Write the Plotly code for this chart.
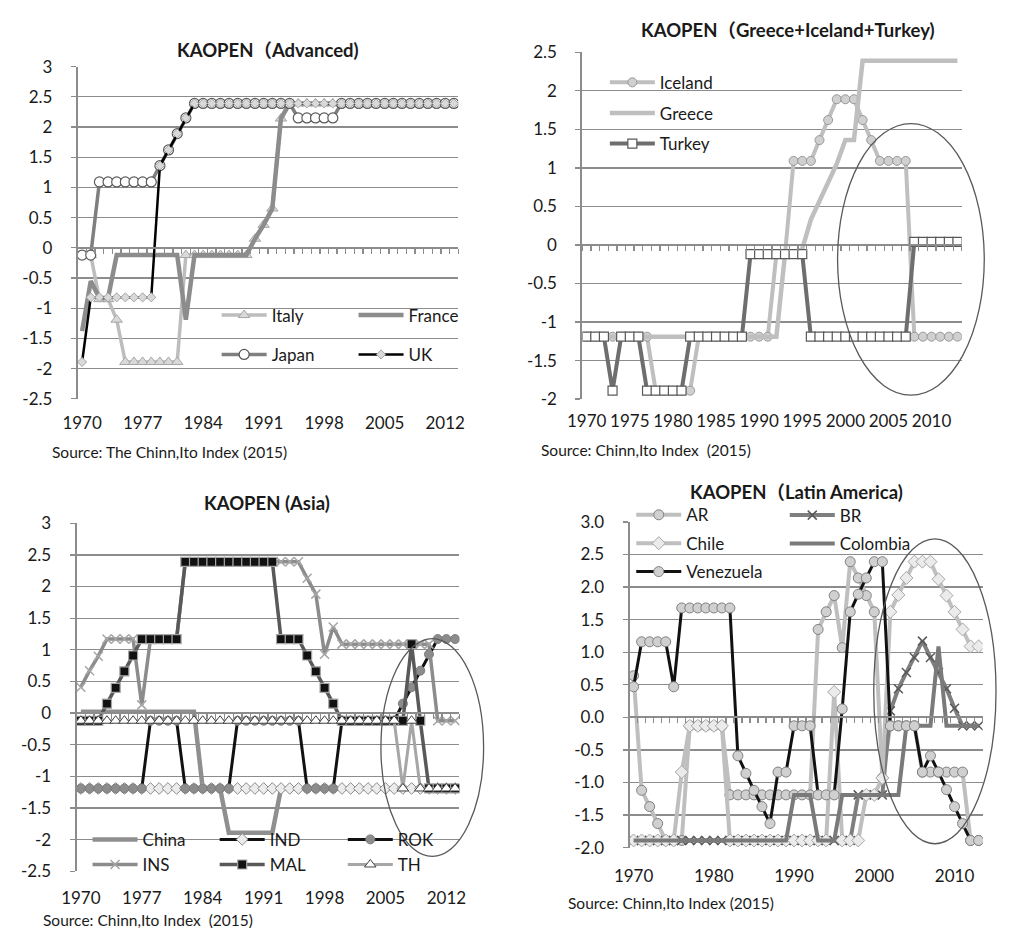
import plotly.graph_objects as go

W, H = 1010, 936          # browser window
OFF = 8                   # default page margin around the figure
FW, FH = W - 2 * OFF, H - 2 * OFF
FONT = "Lato, 'Noto Sans CJK JP', sans-serif"

years = list(range(1970, 2014))

# ---------------- Panel 1: Advanced ----------------
italy = [
    -0.12, -0.12, -0.85, -0.85, -1.19, -1.89, -1.89, -1.89, -1.89, -1.89,
    -1.89, -1.89, -0.12, -0.12, -0.12, -0.12, -0.12, -0.12, -0.12, -0.12,
    0.15, 0.38, 0.65, 2.14, 2.39, 2.39, 2.39, 2.39, 2.39, 2.39,
    2.39, 2.39, 2.39, 2.39, 2.39, 2.39, 2.39, 2.39, 2.39, 2.39,
    2.39, 2.39, 2.39, 2.39]
france = [
    -1.38, -0.55, -0.83, -0.83, -0.12, -0.12, -0.12, -0.12, -0.12, -0.12,
    -0.12, -0.12, -1.19, -0.12, -0.12, -0.12, -0.12, -0.12, -0.12, -0.12,
    0.15, 0.38, 0.65, 2.14, 2.39, 2.39, 2.39, 2.39, 2.39, 2.39,
    2.39, 2.39, 2.39, 2.39, 2.39, 2.39, 2.39, 2.39, 2.39, 2.39,
    2.39, 2.39, 2.39, 2.39]
japan = [
    -0.12, -0.12, 1.09, 1.09, 1.09, 1.09, 1.09, 1.09, 1.09, 1.36,
    1.62, 1.89, 2.15, 2.39, 2.39, 2.39, 2.39, 2.39, 2.39, 2.39,
    2.39, 2.39, 2.39, 2.39, 2.39, 2.15, 2.15, 2.15, 2.15, 2.15,
    2.39, 2.39, 2.39, 2.39, 2.39, 2.39, 2.39, 2.39, 2.39, 2.39,
    2.39, 2.39, 2.39, 2.39]
uk = [
    -1.89, -0.82, -0.82, -0.82, -0.82, -0.82, -0.82, -0.82, -0.82, 1.36,
    1.62, 1.89, 2.15, 2.39, 2.39, 2.39, 2.39, 2.39, 2.39, 2.39,
    2.39, 2.39, 2.39, 2.39, 2.39, 2.39, 2.39, 2.39, 2.39, 2.39,
    2.39, 2.39, 2.39, 2.39, 2.39, 2.39, 2.39, 2.39, 2.39, 2.39,
    2.39, 2.39, 2.39, 2.39]

# ---------------- Panel 2: Greece + Iceland + Turkey ----------------
iceland = [
    -1.19, -1.19, -1.19, -1.19, -1.19, -1.19, -1.19, -1.19, -1.89, -1.89,
    -1.89, -1.89, -1.89, -1.19, -1.19, -1.19, -1.19, -1.19, -1.19, -1.19,
    -1.19, -1.19, -0.12, -0.12, 1.09, 1.09, 1.09, 1.36, 1.62, 1.89,
    1.89, 1.89, 1.62, 1.36, 1.09, 1.09, 1.09, 1.09, -1.19, -1.19,
    -1.19, -1.19, -1.19, -1.19]
greece = [
    -1.19, -1.19, -1.19, -1.19, -1.19, -1.19, -1.19, -1.19, -1.19, -1.19,
    -1.19, -1.19, -1.19, -1.19, -1.19, -1.19, -1.19, -1.19, -1.19, -1.19,
    -1.19, -1.19, -1.19, -0.12, -0.12, -0.05, 0.33, 0.57, 0.81, 1.05,
    1.36, 1.36, 2.39, 2.39, 2.39, 2.39, 2.39, 2.39, 2.39, 2.39,
    2.39, 2.39, 2.39, 2.39]
turkey = [
    -1.19, -1.19, -1.19, -1.89, -1.19, -1.19, -1.19, -1.89, -1.89, -1.89,
    -1.89, -1.89, -1.19, -1.19, -1.19, -1.19, -1.19, -1.19, -1.19, -0.12,
    -0.12, -0.12, -0.12, -0.12, -0.12, -0.12, -1.19, -1.19, -1.19, -1.19,
    -1.19, -1.19, -1.19, -1.19, -1.19, -1.19, -1.19, -1.19, 0.04, 0.04,
    0.04, 0.04, 0.04, 0.04]

# ---------------- Panel 3: Asia ----------------
china = [
    0.02, 0.02, 0.02, 0.02, 0.02, 0.02, 0.02, 0.02, 0.02, 0.02,
    0.02, 0.02, 0.02, 0.02, -1.19, -1.19, -1.19, -1.89, -1.89, -1.89,
    -1.89, -1.89, -1.89, -1.19, -1.19, -1.19, -1.19, -1.19, -1.19, -1.19,
    -1.19, -1.19, -1.19, -1.19, -1.19, -1.19, -1.19, -1.19, -1.19, -1.19,
    -1.19, -1.19, -1.19, -1.19]
ind = [
    -1.19, -1.19, -1.19, -1.19, -1.19, -1.19, -1.19, -1.19, -1.19, -1.19,
    -1.19, -1.19, -1.19, -1.19, -1.19, -1.19, -1.19, -1.19, -1.19, -1.19,
    -1.19, -1.19, -1.19, -1.19, -1.19, -1.19, -1.19, -1.19, -1.19, -1.19,
    -1.19, -1.19, -1.19, -1.19, -1.19, -1.19, -1.19, -1.19, -1.19, -1.19,
    -1.19, -1.19, -1.19, -1.19]
rok = [
    -1.19, -1.19, -1.19, -1.19, -1.19, -1.19, -1.19, -1.19, -0.12, -0.12,
    -0.12, -0.12, -1.19, -1.19, -1.19, -1.19, -1.19, -1.19, -0.12, -0.12,
    -0.12, -0.12, -0.12, -0.12, -0.12, -0.12, -1.19, -1.19, -1.19, -1.19,
    -0.12, -0.12, -0.12, -0.12, -0.12, -0.12, -0.12, 0.15, 0.41, 0.67,
    0.93, 1.17, 1.17, 1.17]
ins = [
    0.41, 0.67, 0.90, 1.17, 1.17, 1.17, 1.17, 0.13, 1.17, 1.17,
    1.17, 1.17, 2.39, 2.39, 2.39, 2.39, 2.39, 2.39, 2.39, 2.39,
    2.39, 2.39, 2.39, 2.39, 2.39, 2.39, 2.13, 1.88, 0.93, 1.36,
    1.09, 1.09, 1.09, 1.09, 1.09, 1.09, 1.09, 1.09, 1.09, 1.09,
    1.09, -0.12, -0.12, -0.12]
mal = [
    -0.12, -0.12, -0.12, 0.15, 0.40, 0.66, 0.91, 1.17, 1.17, 1.17,
    1.17, 1.17, 2.39, 2.39, 2.39, 2.39, 2.39, 2.39, 2.39, 2.39,
    2.39, 2.39, 2.39, 1.17, 1.17, 1.17, 0.91, 0.66, 0.40, 0.15,
    -0.12, -0.12, -0.12, -0.12, -0.12, -0.12, -0.12, -0.12, 1.09, -0.12,
    -1.19, -1.19, -1.19, -1.19]
th = [
    -0.12, -0.12, -0.12, -0.12, -0.12, -0.12, -0.12, -0.12, -0.12, -0.12,
    -0.12, -0.12, -0.12, -0.12, -0.12, -0.12, -0.12, -0.12, -0.12, -0.12,
    -0.12, -0.12, -0.12, -0.12, -0.12, -0.12, -0.12, -0.12, -0.12, -0.12,
    -0.12, -0.12, -0.12, -0.12, -0.12, -0.12, -0.12, -1.19, -0.12, -1.19,
    -1.19, -1.19, -1.19, -1.19]

# ---------------- Panel 4: Latin America ----------------
ar = [
    0.64, -1.12, -1.37, -1.63, -1.89, -1.89, -1.89, -0.13, -0.13, -0.13,
    -0.13, -0.13, -1.19, -1.19, -1.19, -1.19, -1.19, -1.19, -1.19, -1.19,
    -1.19, -1.19, -1.19, 1.35, 1.62, 1.87, 1.07, 2.39, 2.14, 1.87,
    1.62, -0.93, -0.13, -0.13, -0.13, -0.13, -0.84, -0.84, -0.84, -0.84,
    -0.84, -0.84, -1.89, -1.89]
br = [
    -1.89, -1.89, -1.89, -1.89, -1.89, -1.89, -1.89, -1.89, -1.89, -1.89,
    -1.89, -1.89, -1.89, -1.89, -1.89, -1.89, -1.89, -1.89, -1.89, -1.89,
    -1.89, -1.89, -1.89, -1.89, -1.89, -1.89, -1.89, -1.89, -1.19, -1.19,
    -1.19, -1.19, 0.10, 0.44, 0.69, 0.92, 1.17, 0.92, 0.69, 0.44,
    0.14, -0.13, -0.13, -0.13]
chile = [
    -1.89, -1.89, -1.89, -1.89, -1.89, -1.89, -0.84, -0.13, -0.13, -0.13,
    -0.13, -0.13, -1.89, -1.89, -1.89, -1.89, -1.89, -1.89, -1.89, -1.89,
    -1.89, -1.89, -1.89, -1.89, -1.89, 0.39, -1.89, -1.89, -1.89, -1.19,
    -1.19, -0.93, 1.62, 1.88, 2.14, 2.39, 2.39, 2.39, 2.12, 1.87,
    1.62, 1.35, 1.09, 1.09]
colombia = [
    -1.89, -1.89, -1.89, -1.89, -1.89, -1.89, -1.89, -1.89, -1.89, -1.89,
    -1.89, -1.89, -1.89, -1.89, -1.89, -1.89, -1.89, -1.89, -1.89, -1.89,
    -1.19, -1.19, -1.19, -1.89, -1.89, -1.89, -1.19, -1.19, -1.19, -1.19,
    -1.19, -1.19, -1.19, -1.19, -0.13, -0.13, -0.13, -0.13, 1.09, -0.13,
    -0.13, -0.13, -0.13, -0.13]
venezuela = [
    0.47, 1.16, 1.16, 1.16, 1.16, 0.47, 1.68, 1.68, 1.68, 1.68,
    1.68, 1.68, 1.68, -0.59, -0.86, -1.12, -1.37, -1.63, -0.84, -0.84,
    -0.13, -0.13, -0.13, -1.19, -1.19, -1.19, 0.13, 1.62, 1.89, 2.14,
    2.39, 2.39, -0.13, -0.13, -0.13, -0.13, -0.84, -0.59, -0.84, -1.11,
    -1.37, -1.63, -1.89, -1.89]

# ---------------- tick labels / texts ----------------
ytick_a = [3, 2.5, 2, 1.5, 1, 0.5, 0, -0.5, -1, -1.5, -2, -2.5]
ytext_a = ["3", "2.5", "2", "1.5", "1", "0.5", "0", "-0.5", "-1", "-1.5", "-2", "-2.5"]
ytick_b = [2.5, 2, 1.5, 1, 0.5, 0, -0.5, -1, -1.5, -2]
ytext_b = ["2.5", "2", "1.5", "1", "0.5", "0", "-0.5", "-1", "-1.5", "-2"]
ytick_d = [3, 2.5, 2, 1.5, 1, 0.5, 0, -0.5, -1, -1.5, -2]
ytext_d = ["3.0", "2.5", "2.0", "1.5", "1.0", "0.5", "0.0", "-0.5", "-1.0", "-1.5", "-2.0"]
xtick_7 = [1970, 1977, 1984, 1991, 1998, 2005, 2012]
xtick_5 = [1970, 1975, 1980, 1985, 1990, 1995, 2000, 2005, 2010]
xtick_10 = [1970, 1980, 1990, 2000, 2010]

titles = ["KAOPEN（Advanced)", "KAOPEN（Greece+Iceland+Turkey)",
          "KAOPEN (Asia)", "KAOPEN（Latin America)"]
sources = ["Source: The Chinn,Ito Index (2015)", "Source: Chinn,Ito Index \u00a0(2015)",
           "Source: Chinn,Ito Index \u00a0(2015)", "Source: Chinn,Ito Index (2015)"]

# ---------------- geometry (window pixels) ----------------
panels = [
    dict(l=63, r=452, t=56.7, b=396.7, yr=(-2.5, 3), yv=ytick_a, yt=ytext_a, xv=xtick_7,
         title=(258, 40), src=(35, 451), stand=12),
    dict(l=579, r=967, t=42, b=397, yr=(-2, 2.5), yv=ytick_b, yt=ytext_b, xv=xtick_5,
         title=(789, 19), src=(535, 449), stand=10),
    dict(l=61.7, r=453.3, t=524, b=880.3, yr=(-2.5, 3), yv=ytick_a, yt=ytext_a, xv=xtick_7,
         title=(256, 503), src=(25, 930), stand=15),
    dict(l=627.3, r=988.3, t=522.7, b=856, yr=(-2, 3), yv=ytick_d, yt=ytext_d, xv=xtick_10,
         title=(798, 492), src=(562, 913), stand=16),
]
ellipses = [None, (840, 990, 115, 393), (373, 478, 642, 865), (877, 1002, 540, 852)]


def fx(px):
    return (px - OFF) / FW


def fy(py):
    return 1 - (py - OFF) / FH


GRID = '#8c8c8c'
TXT = '#1a1a1a'
TICK_SIZE = 17
LEG_SIZE = 17
TITLE_SIZE = 18.5

fig = go.Figure()


def add_series(idx, name, y, color, width, legend, symbol=None, msize=9,
               mfill=None, mline=None, mlw=1.0):
    ax = '' if idx == 1 else str(idx)
    tr = dict(x=years, y=y, name=name, xaxis='x' + ax, yaxis='y' + ax, legend=legend,
              legendgroup=name, line=dict(color=color, width=width), hoverinfo='skip')
    if symbol:
        tr['mode'] = 'lines+markers'
        tr['marker'] = dict(symbol=symbol, size=msize, color=mfill,
                            line=dict(color=mline, width=mlw))
    else:
        tr['mode'] = 'lines'
    fig.add_trace(go.Scatter(**tr))


# Panel 1
add_series(1, 'Italy', italy, '#bdbdbd', 3.5, 'legend', 'triangle-up', 10, '#d9d9d9', '#a6a6a6')
add_series(1, 'France', france, '#8c8c8c', 4.5, 'legend2')
add_series(1, 'Japan', japan, '#7f7f7f', 3.5, 'legend', 'circle', 10, 'white', '#595959', 1.2)
add_series(1, 'UK', uk, '#000000', 2.5, 'legend2', 'diamond', 7, '#d9d9d9', '#a6a6a6')
# Panel 2
add_series(2, 'Iceland', iceland, '#bfbfbf', 4, 'legend3', 'circle', 9, '#d0d0d0', '#999999')
add_series(2, 'Greece', greece, '#bfbfbf', 4.5, 'legend3')
add_series(2, 'Turkey', turkey, '#6e6e6e', 4, 'legend3', 'square', 9, 'white', '#595959', 1.2)
# Panel 3
add_series(3, 'China', china, '#8f8f8f', 4.5, 'legend4')
add_series(3, 'IND', ind, '#111111', 3, 'legend5', 'diamond', 9, '#ececec', '#8c8c8c')
add_series(3, 'ROK', rok, '#111111', 3, 'legend6', 'circle', 9, '#8c8c8c', '#7f7f7f')
add_series(3, 'INS', ins, '#8c8c8c', 3.5, 'legend4', 'x-thin', 9, '#a6a6a6', '#a6a6a6', 1.5)
add_series(3, 'MAL', mal, '#595959', 3.5, 'legend5', 'square', 9, '#111111', '#a6a6a6', 1.2)
add_series(3, 'TH', th, '#a6a6a6', 3, 'legend6', 'triangle-up', 10, 'white', '#404040')
# Panel 4
add_series(4, 'AR', ar, '#bfbfbf', 4, 'legend7', 'circle', 10, '#d0d0d0', '#808080')
add_series(4, 'BR', br, '#7f7f7f', 4, 'legend8', 'x-thin', 9, '#595959', '#595959', 1.5)
add_series(4, 'Chile', chile, '#bfbfbf', 4, 'legend7', 'diamond', 10, '#ebebeb', '#a6a6a6')
add_series(4, 'Colombia', colombia, '#7a7a7a', 4, 'legend8')
add_series(4, 'Venezuela', venezuela, '#111111', 3, 'legend7', 'circle', 10, '#d0d0d0', '#808080')

layout = dict(width=FW, height=FH, autosize=False, margin=dict(l=0, r=0, t=0, b=0),
              paper_bgcolor='white', plot_bgcolor='white', showlegend=True,
              font=dict(family=FONT, color=TXT))

annotations = []
shapes = []
for i, p in enumerate(panels, start=1):
    ax = '' if i == 1 else str(i)
    dx = [fx(p['l']), fx(p['r'])]
    dy = [fy(p['b']), fy(p['t'])]
    ymin, ymax = p['yr']
    layout['xaxis' + ax] = dict(
        domain=dx, range=[years[0] - 0.5, years[-1] + 0.5], anchor='y' + ax,
        tickmode='array', tickvals=p['xv'], ticktext=[str(v) for v in p['xv']],
        tickangle=0, showgrid=False, zeroline=False, showline=False, ticks='',
        ticklabelstandoff=p['stand'], tickfont=dict(family=FONT, size=TICK_SIZE, color=TXT),
        fixedrange=True)
    layout['yaxis' + ax] = dict(
        domain=dy, range=[ymin, ymax], anchor='x' + ax, tickmode='array',
        tickvals=p['yv'], ticktext=p['yt'], showgrid=True, gridcolor=GRID, gridwidth=1.3,
        zeroline=False, showline=True, linecolor=GRID, linewidth=2, ticks='outside',
        ticklen=5, tickcolor=GRID, tickwidth=1.3, ticklabelstandoff=15,
        tickfont=dict(family=FONT, size=TICK_SIZE, color=TXT), fixedrange=True)
    # category axis crossing at zero with small tick marks
    j = i + 4
    zpos = dy[0] + (0 - ymin) / (ymax - ymin) * (dy[1] - dy[0])
    layout['xaxis%d' % j] = dict(
        overlaying='x' + ax, anchor='free', position=zpos,
        range=[years[0] - 0.5, years[-1] + 0.5], tickmode='linear', tick0=years[0] - 0.5,
        dtick=1, ticks='outside', ticklen=5, tickwidth=1.3, tickcolor=GRID,
        showticklabels=False, showline=True, linecolor=GRID, linewidth=2,
        showgrid=False, zeroline=False, fixedrange=True)
    fig.add_trace(go.Scatter(x=years, y=[None] * len(years), xaxis='x%d' % j,
                             yaxis='y' + ax, showlegend=False, hoverinfo='skip',
                             mode='lines'))
    tx, ty = p['title']
    annotations.append(dict(text='<b>%s</b>' % titles[i - 1], x=fx(tx), y=fy(ty),
                            xref='paper', yref='paper', xanchor='center', yanchor='middle',
                            showarrow=False, font=dict(family=FONT, size=TITLE_SIZE, color=TXT)))
    sx, sy = p['src']
    annotations.append(dict(text=sources[i - 1], x=fx(sx), y=fy(sy), xref='paper',
                            yref='paper', xanchor='left', yanchor='middle', showarrow=False,
                            font=dict(family=FONT, size=15.5, color=TXT)))
    if ellipses[i - 1]:
        x0, x1, y0, y1 = ellipses[i - 1]
        shapes.append(dict(type='circle', xref='paper', yref='paper', x0=fx(x0), x1=fx(x1),
                           y0=fy(y1), y1=fy(y0), line=dict(color='#595959', width=1.3),
                           layer='above'))

layout['annotations'] = annotations
layout['shapes'] = shapes

# legends: (name, text-left px, middle-row px, row spacing px)
legend_pos = [('legend', 260, 331.4, 39.3), ('legend2', 400, 331.4, 39.3),
              ('legend3', 657, 104.5, 30.5),
              ('legend4', 128, 860.8, 25), ('legend5', 258, 860.8, 25),
              ('legend6', 389, 860.8, 25),
              ('legend7', 684, 544.5, 28.3), ('legend8', 841, 530.5, 28.3)]
ITEMW = 45
for name, tx, my, sp in legend_pos:
    layout[name] = dict(x=fx(tx - ITEMW - 10), y=fy(my), xanchor='left', yanchor='middle',
                        bgcolor='rgba(0,0,0,0)', borderwidth=0, traceorder='grouped',
                        tracegroupgap=max(sp - 25, 0), itemwidth=ITEMW,
                        font=dict(family=FONT, size=LEG_SIZE, color=TXT))

fig.update_layout(**layout)

fig.write_html("out.html", config={'displayModeBar': False, 'staticPlot': True})
